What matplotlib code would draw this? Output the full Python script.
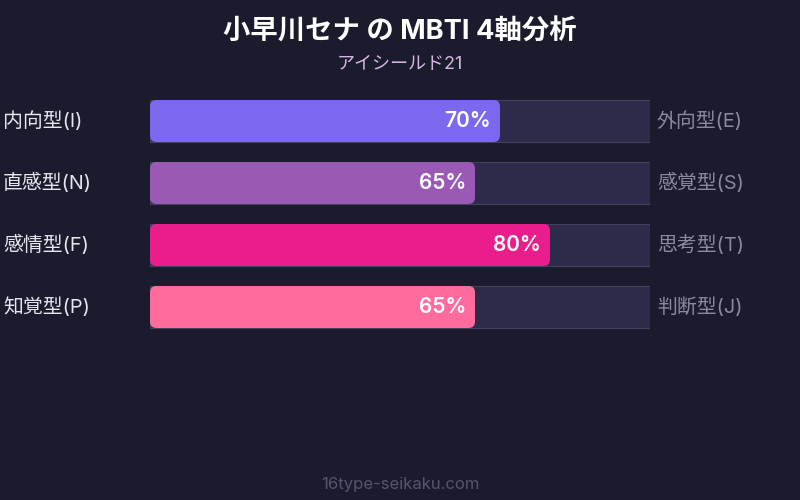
import matplotlib
matplotlib.use("Agg")
import matplotlib.pyplot as plt
from matplotlib.patches import FancyBboxPatch, Rectangle

plt.rcParams['font.family'] = ['Inter', 'Noto Sans CJK JP', 'DejaVu Sans']

# data
title = "小早川セナ の MBTI 4軸分析"
subtitle = "アイシールド21"
left_labels = ["内向型(I)", "直感型(N)", "感情型(F)", "知覚型(P)"]
right_labels = ["外向型(E)", "感覚型(S)", "思考型(T)", "判断型(J)"]
values = [70, 65, 80, 65]
colors = ["#7b68ee", "#9b59b6", "#e91e8c", "#ff6b9d"]
footer = "16type-seikaku.com"

bg = "#1b1b2e"
fig = plt.figure(figsize=(8, 5), dpi=100, facecolor=bg)

fig.text(0.5, 1 - 33 / 500, title, ha='center', va='center', color='white',
         fontsize=19.7, fontweight='bold')
fig.text(0.5, 1 - 64 / 500, subtitle, ha='center', va='center', color='#d8b4e2',
         fontsize=13)
fig.text(0.5, 1 - 484 / 500, footer, ha='center', va='center', color='#55556e',
         fontsize=12)

# axes over the bar area: x = percent, y = row
ax = fig.add_axes([150 / 800, 162 / 500, 500 / 800, 248 / 500])
ax.set_facecolor('none')
ax.set_xlim(0, 100)
ax.set_ylim(len(values) - 0.5, -0.5)
ax.axis('off')

h = 42 / 62
asp = (1 / 62) / (100 / 500)  # y-units per px / x-units per px
for i, (v, c) in enumerate(zip(values, colors)):
    ax.add_patch(Rectangle((0, i - h / 2), 100, h, facecolor='#2d2b4a',
                           edgecolor='#44425f', linewidth=0.8))
    ax.add_patch(FancyBboxPatch((0, i - h / 2), v, h,
                                boxstyle="round,pad=0,rounding_size=1.3",
                                mutation_aspect=asp, facecolor=c, edgecolor='none'))
    ax.text(v - 1.8, i, f"{v}%", ha='right', va='center', color='white',
            fontsize=15, fontweight='semibold')
    ax.text(-29.4, i, left_labels[i], ha='left', va='center', color='#e6e6ee',
            fontsize=14.3)
    ax.text(101.4, i, right_labels[i], ha='left', va='center', color='#8a8aa0',
            fontsize=14.3)

fig.savefig("out.png", dpi=100, facecolor=bg)
